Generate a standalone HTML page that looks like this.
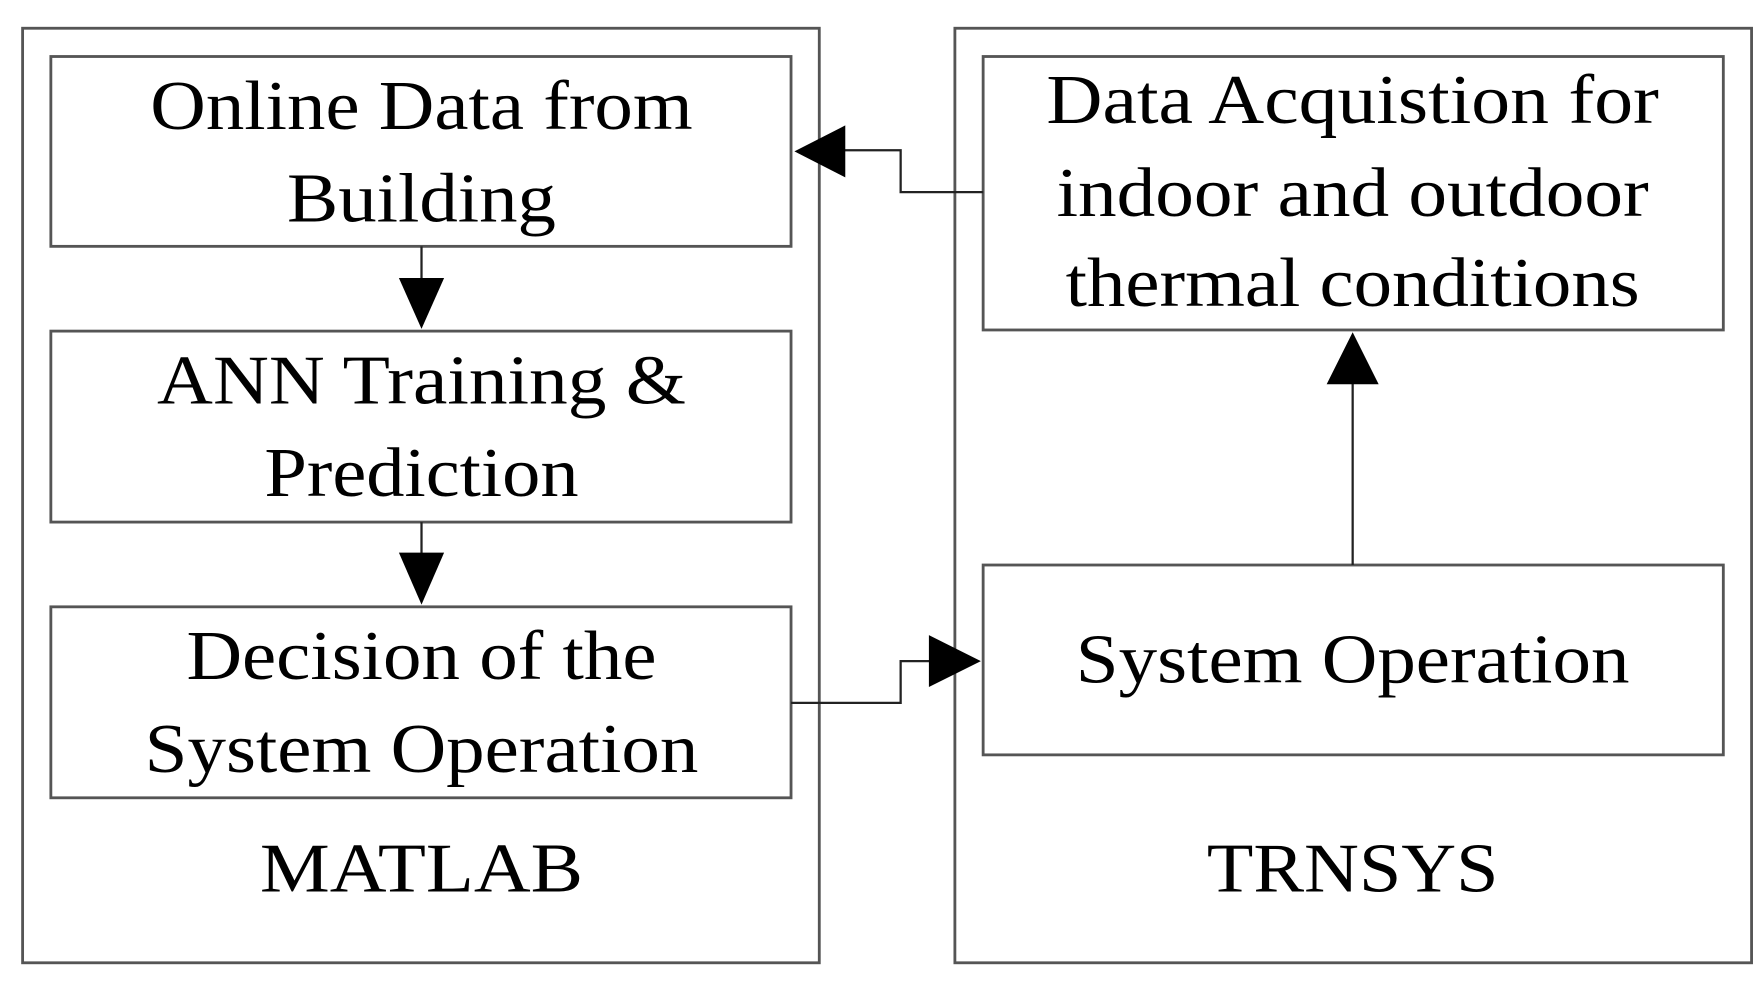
<!DOCTYPE html>
<html><head><meta charset="utf-8"><style>html,body{margin:0;padding:0;background:#fff}svg{display:block}</style></head>
<body>
<svg width="1764" height="982" viewBox="0 0 1561 869" preserveAspectRatio="none" xmlns="http://www.w3.org/2000/svg" font-family="Liberation Serif, serif" font-size="62" fill="#000">
<g fill="none" stroke="#555" stroke-width="2.5">
<rect x="20" y="25" width="705" height="827"/>
<rect x="845" y="25" width="705" height="827"/>
<rect x="45" y="50" width="655" height="168"/>
<rect x="45" y="293" width="655" height="169"/>
<rect x="45" y="537" width="655" height="169"/>
<rect x="870" y="50" width="655" height="242"/>
<rect x="870" y="500" width="655" height="168"/>
</g>
<g fill="none" stroke="#222" stroke-width="2">
<line x1="373" y1="218" x2="373" y2="250"/>
<line x1="373" y1="462" x2="373" y2="492"/>
<polyline points="870,170 797,170 797,133 745,133"/>
<polyline points="700,622 797,622 797,585 825,585"/>
<line x1="1197" y1="500" x2="1197" y2="338"/>
</g>
<g fill="#000">
<polygon points="353,246 393,246 373,291"/>
<polygon points="353,489 393,489 373,535"/>
<polygon points="748,111 748,157 703,134"/>
<polygon points="822,562 822,608 868,585"/>
<polygon points="1174,340 1220,340 1197,294"/>
</g>
<g text-anchor="middle">
<text x="373" y="114" textLength="480" lengthAdjust="spacingAndGlyphs">Online Data from</text>
<text x="373" y="196" textLength="238" lengthAdjust="spacingAndGlyphs">Building</text>
<text x="373" y="357" textLength="468" lengthAdjust="spacingAndGlyphs">ANN Training &amp;</text>
<text x="373" y="439" textLength="278" lengthAdjust="spacingAndGlyphs">Prediction</text>
<text x="373" y="601" textLength="416" lengthAdjust="spacingAndGlyphs">Decision of the</text>
<text x="373" y="683" textLength="490" lengthAdjust="spacingAndGlyphs">System Operation</text>
<text x="373" y="789" textLength="286" lengthAdjust="spacingAndGlyphs">MATLAB</text>
<text x="1197" y="109" textLength="542" lengthAdjust="spacingAndGlyphs">Data Acquistion for</text>
<text x="1197" y="191" textLength="524" lengthAdjust="spacingAndGlyphs">indoor and outdoor</text>
<text x="1197" y="271" textLength="508" lengthAdjust="spacingAndGlyphs">thermal conditions</text>
<text x="1197" y="604" textLength="490" lengthAdjust="spacingAndGlyphs">System Operation</text>
<text x="1197" y="789" textLength="258" lengthAdjust="spacingAndGlyphs">TRNSYS</text>
</g>
</svg>
</body></html>
